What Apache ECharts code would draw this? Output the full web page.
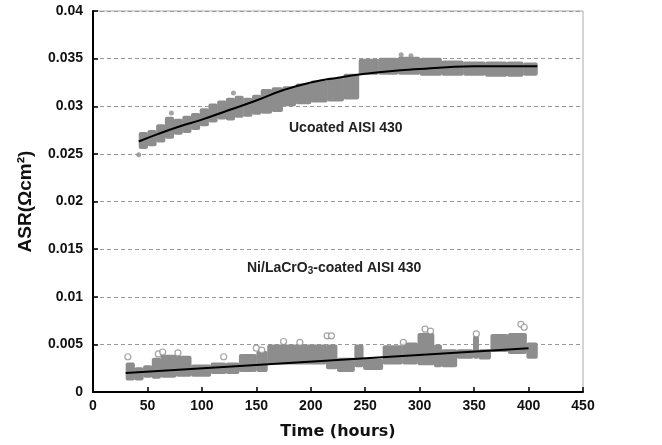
<!DOCTYPE html>
<html>
  <head>
    <meta charset="utf-8">
    <title>ASR vs time</title>
  </head>
  <body style="margin:0">
    <div id="main" style="width: 662px;height:445px;"></div>
  </body>
  <script type="text/javascript" src="https://cdn.jsdelivr.net/npm/echarts@6/dist/echarts.min.js"></script>
  <script type="text/javascript">
      // band data: segment edges (hours), low / high ASR
      var upperT  = [42, 50, 58, 66, 74, 82, 90, 98, 106, 114, 122, 130, 138, 146, 154, 164, 174, 186, 200, 215, 230, 244, 262, 280, 300, 320, 340, 360, 380, 395, 408];
      var upperLo = [0.0255, 0.0258, 0.0262, 0.0266, 0.0270, 0.0272, 0.0275, 0.0279, 0.0283, 0.0286, 0.0285, 0.0288, 0.0289, 0.0291, 0.0292, 0.0294, 0.0300, 0.0302, 0.0304, 0.0305, 0.0307, 0.0333, 0.0333, 0.0333, 0.0332, 0.0332, 0.0332, 0.0331, 0.0331, 0.0332];
      var upperHi = [0.0273, 0.0275, 0.0281, 0.0289, 0.0287, 0.0290, 0.0293, 0.0298, 0.0303, 0.0306, 0.0309, 0.0311, 0.0309, 0.0312, 0.0318, 0.0320, 0.0321, 0.0324, 0.0327, 0.0330, 0.0334, 0.0350, 0.0351, 0.0352, 0.0351, 0.0348, 0.0347, 0.0347, 0.0347, 0.0346];

      var lowerT  = [30, 38, 46, 54, 62, 76, 90, 108, 122, 134, 150, 160, 214, 224, 240, 248, 266, 284, 298, 313, 320, 334, 349, 354, 365, 381, 398, 408];
      var lowerLo = [0.0012, 0.0012, 0.0015, 0.0014, 0.0015, 0.0016, 0.0016, 0.0019, 0.0019, 0.0021, 0.0021, 0.0029, 0.0024, 0.0021, 0.0026, 0.0023, 0.0029, 0.0029, 0.0028, 0.0026, 0.0026, 0.0035, 0.0035, 0.0034, 0.0042, 0.0040, 0.0035];
      var lowerHi = [0.0031, 0.0026, 0.0028, 0.0036, 0.0039, 0.0038, 0.0029, 0.0031, 0.0031, 0.0040, 0.0043, 0.0050, 0.0050, 0.0036, 0.0050, 0.0035, 0.0049, 0.0052, 0.0062, 0.0050, 0.0045, 0.0045, 0.0059, 0.0045, 0.0061, 0.0062, 0.0052];

      // stray points
      var upperOut = [[42, 0.0249], [72, 0.0293], [129, 0.0314], [283, 0.0354], [292, 0.0353]];
      var lowerOut = [[32, 0.0037], [60, 0.0040], [64, 0.0042], [78, 0.0041], [120, 0.0037], [150, 0.0046], [155, 0.0044],
                      [175, 0.0053], [190, 0.0052], [215, 0.0059], [219, 0.0059], [285, 0.0052], [305, 0.0066], [310, 0.0064],
                      [352, 0.0061], [393, 0.0071], [396, 0.0068]];

      // fitted curves
      var upperFitT = [42, 60, 80, 100, 125, 150, 175, 200, 225, 250, 275, 300, 325, 350, 375, 408];
      var upperFitY = [0.0263, 0.0271, 0.0279, 0.0286, 0.0296, 0.0306, 0.0317, 0.0325, 0.0330, 0.0334, 0.0337, 0.0339, 0.0341, 0.0342, 0.0342, 0.0342];
      var lowerFitT = [30, 400];
      var lowerFitY = [0.0020, 0.0046];

      function segs(t, lo, hi) {
          var out = [];
          for (var i = 0; i < lo.length; i++) out.push([t[i], t[i + 1], lo[i], hi[i]]);
          return out;
      }
      function pairs(t, y) {
          return t.map(function (v, i) { return [v, y[i]]; });
      }

      var GREY = '#8d8d8d';

      function renderBand(params, api) {
          var p0 = api.coord([api.value(0), api.value(3)]);
          var p1 = api.coord([api.value(1), api.value(2)]);
          return {
              type: 'rect',
              shape: { x: p0[0], y: p0[1], width: p1[0] - p0[0] + 0.5, height: p1[1] - p0[1], r: 2 },
              style: { fill: GREY }
          };
      }

      var myChart = echarts.init(document.getElementById('main'));
      var lbl = { color: '#111', fontFamily: 'Liberation Sans', fontWeight: 'bold', fontSize: 14 };

      myChart.setOption({
          animation: false,
          backgroundColor: '#fff',
          grid: { left: 93, right: 79, top: 11, bottom: 50, show: true, borderColor: '#aaa', borderWidth: 1 },
          xAxis: {
              type: 'value', min: 0, max: 450, interval: 50,
              name: 'Time (hours)', nameLocation: 'middle', nameGap: 32,
              nameTextStyle: { color: '#111', fontFamily: 'DejaVu Sans', fontWeight: 'bold', fontSize: 16 },
              axisLine: { lineStyle: { color: '#000', width: 2 } },
              axisTick: { inside: true, length: 5, lineStyle: { color: '#000', width: 1.5 } },
              axisLabel: Object.assign({ margin: 7 }, lbl),
              splitLine: { show: false }
          },
          yAxis: {
              type: 'value', min: 0, max: 0.04, interval: 0.005,
              name: 'ASR(Ωcm²)', nameLocation: 'middle', nameGap: 58,
              nameTextStyle: { color: '#111', fontFamily: 'Liberation Sans', fontWeight: 'bold', fontSize: 19 },
              axisLine: { lineStyle: { color: '#000', width: 2 } },
              axisTick: { inside: true, length: 5, lineStyle: { color: '#000', width: 1.5 } },
              axisLabel: Object.assign({ margin: 10 }, lbl),
              splitLine: { show: true, lineStyle: { color: '#999', type: [4, 3], width: 1 } }
          },
          series: [
              { type: 'custom', renderItem: renderBand, data: segs(upperT, upperLo, upperHi), encode: { x: [0, 1], y: [2, 3] } },
              { type: 'custom', renderItem: renderBand, data: segs(lowerT, lowerLo, lowerHi), encode: { x: [0, 1], y: [2, 3] } },
              { type: 'scatter', data: upperOut, symbolSize: 5, itemStyle: { color: GREY } },
              { type: 'scatter', data: lowerOut, symbolSize: 6, itemStyle: { color: '#fff', borderColor: GREY, borderWidth: 1.2 } },
              { type: 'line', data: pairs(upperFitT, upperFitY), smooth: true, showSymbol: false, lineStyle: { color: '#000', width: 2 }, z: 5 },
              { type: 'line', data: pairs(lowerFitT, lowerFitY), showSymbol: false, lineStyle: { color: '#000', width: 2 }, z: 5 }
          ],
          graphic: [
              { type: 'text', left: 289, top: 121, style: { text: 'Ucoated AISI 430', font: 'bold 14px "Liberation Sans"', fill: '#222' } },
              { type: 'text', left: 247, top: 261, style: {
                  text: 'Ni/LaCrO{s|3}-coated AISI 430',
                  font: 'bold 14px "Liberation Sans"', fill: '#222',
                  rich: { s: { fontSize: 10, fontWeight: 'bold', fontFamily: 'Liberation Sans', padding: [7, 0, 0, 0], fill: '#222' } }
              } }
          ]
      });
  </script>
</html>
